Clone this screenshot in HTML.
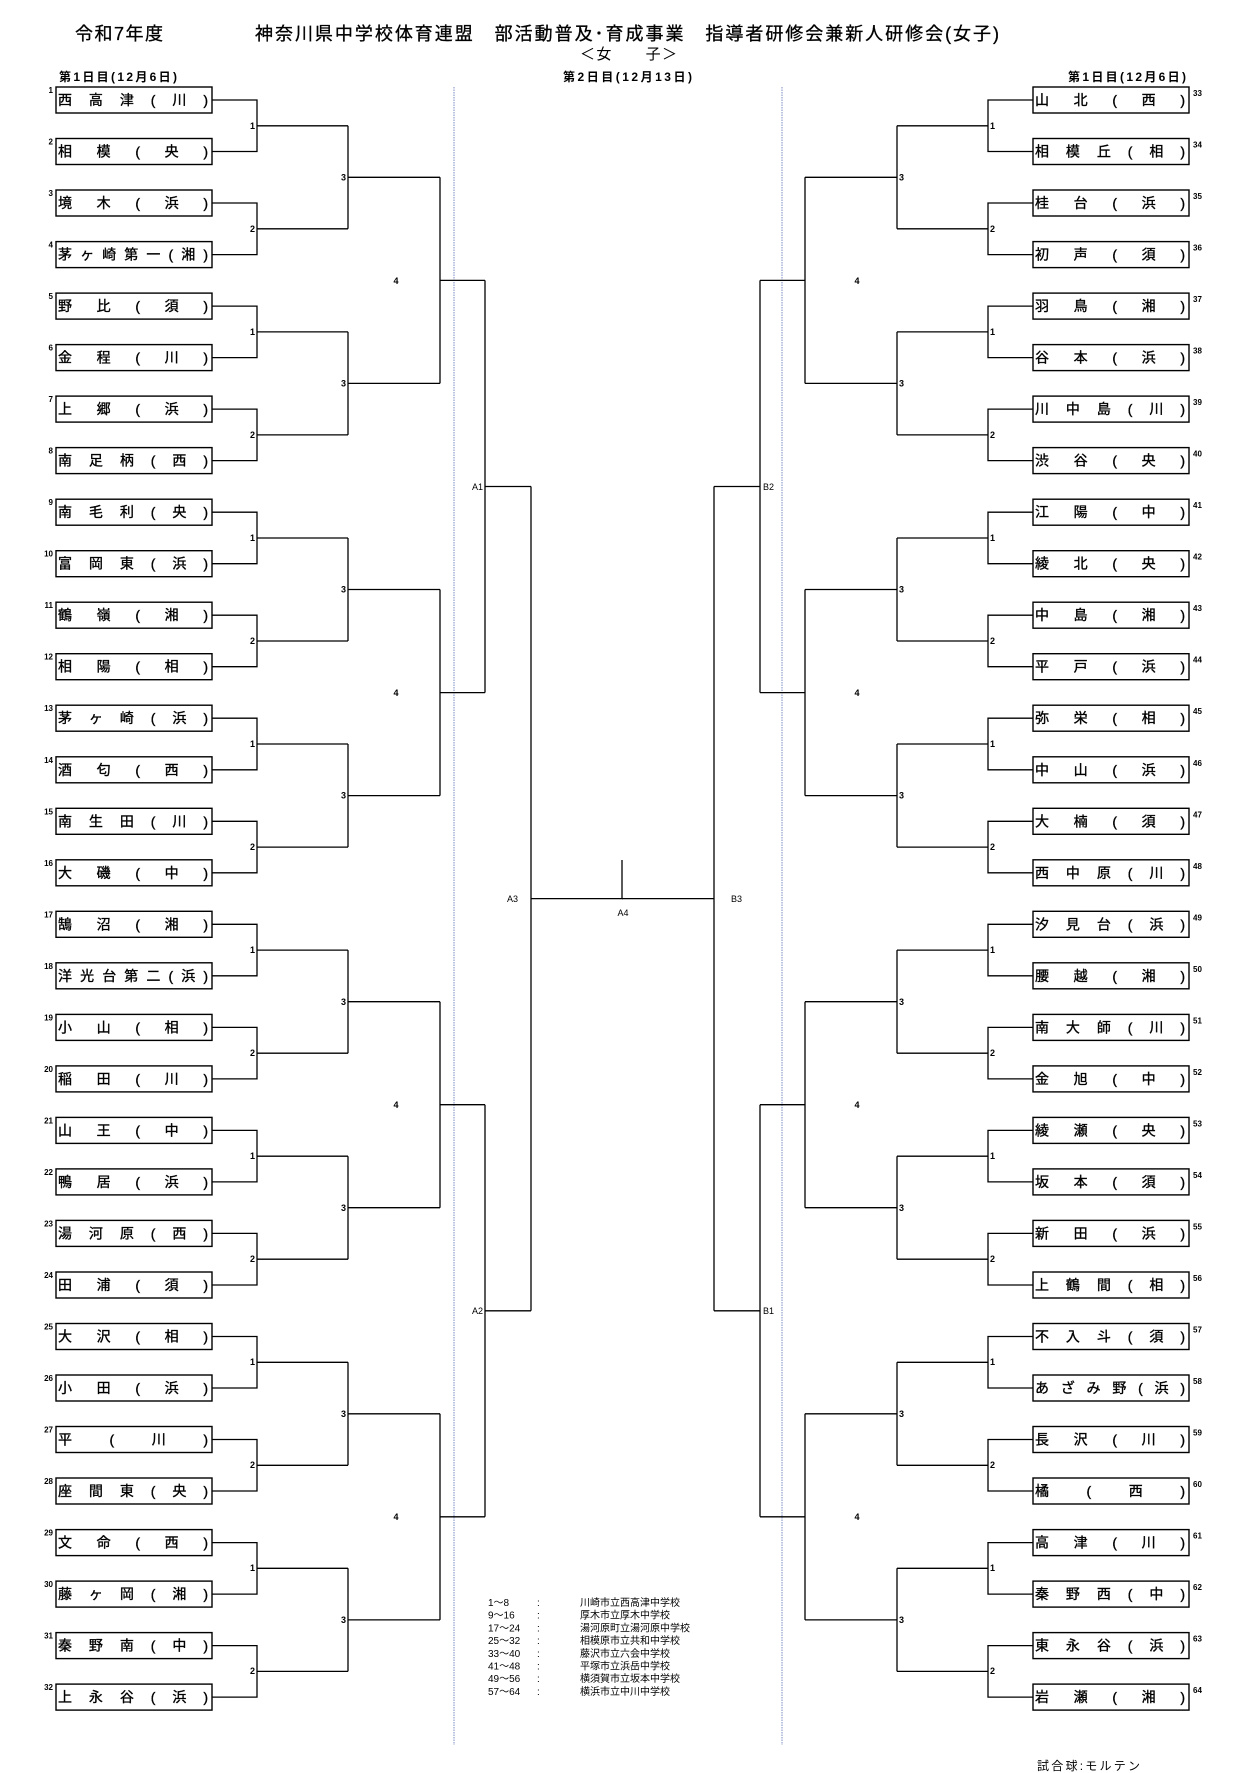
<!DOCTYPE html>
<html><head><meta charset="utf-8"><style>
html,body{margin:0;padding:0;background:#fff}
svg{display:block}
text{font-family:"Liberation Sans","Noto Sans CJK JP",sans-serif;fill:#000}
.tn text{stroke:#000;stroke-width:0.35}
.bd{font-weight:bold}
</style></head><body>
<svg width="1235" height="1773" viewBox="0 0 1235 1773" xmlns="http://www.w3.org/2000/svg">
<defs>
<path id="br" fill="none" stroke="#000" stroke-width="1.3" d="M212 100H257V151.5H212M257 125.8H348M212 203H257V254.6H212M257 228.8H348M212 306.1H257V357.6H212M257 331.9H348M212 409.1H257V460.6H212M257 434.9H348M212 512.2H257V563.7H212M257 538H348M212 615.2H257V666.7H212M257 641H348M212 718.2H257V769.8H212M257 744H348M212 821.3H257V872.8H212M257 847.1H348M212 924.3H257V975.8H212M257 950.1H348M212 1027.4H257V1078.9H212M257 1053.2H348M212 1130.4H257V1181.9H212M257 1156.2H348M212 1233.4H257V1285H212M257 1259.2H348M212 1336.5H257V1388H212M257 1362.3H348M212 1439.5H257V1491H212M257 1465.3H348M212 1542.6H257V1594.1H212M257 1568.3H348M212 1645.6H257V1697.1H212M257 1671.4H348
M348 125.8V228.8M348 177.3H440M348 331.9V434.9M348 383.4H440M348 538V641M348 589.5H440M348 744V847.1M348 795.6H440M348 950.1V1053.2M348 1001.7H440M348 1156.2V1259.2M348 1207.7H440M348 1362.3V1465.3M348 1413.8H440M348 1568.3V1671.4M348 1619.9H440
M440 177.3V383.4M440 280.4H485M440 589.5V795.6M440 692.6H485M440 1001.7V1207.7M440 1104.7H485M440 1413.8V1619.9M440 1516.8H485
M485 280.4V692.6M485 486.5H531M485 1104.7V1516.8M485 1310.8H531
M531 486.5V1310.8M531 898.6H623"/>
<rect id="b" width="156" height="26" fill="none" stroke="#000" stroke-width="1.4"/>
</defs>

<line x1="454" y1="87" x2="454" y2="1745" stroke="#8fa0d0" stroke-width="1.2" stroke-dasharray="1.5 1"/>
<line x1="782" y1="87" x2="782" y2="1745" stroke="#8fa0d0" stroke-width="1.2" stroke-dasharray="1.5 1"/>

<use href="#br"/>
<use href="#br" transform="translate(1245,0) scale(-1,1)"/>
<path d="M622 860V898.6" stroke="#000" stroke-width="1.3"/>

<!-- header -->
<text x="75" y="40" font-size="18" textLength="88" stroke="#000" stroke-width="0.3">令和7年度</text>
<text x="255" y="40" font-size="18" textLength="744" lengthAdjust="spacing" stroke="#000" stroke-width="0.3">神奈川県中学校体育連盟　部活動普及･育成事業　指導者研修会兼新人研修会(女子)</text>
<text x="580" y="59" font-size="15" textLength="97" lengthAdjust="spacing">＜女　　子＞</text>
<text class="bd" x="59" y="81" font-size="12" textLength="118">第1日目(12月6日)</text>
<text class="bd" x="563" y="81" font-size="12" textLength="129">第2日目(12月13日)</text>
<text class="bd" x="1068" y="81" font-size="12" textLength="118">第1日目(12月6日)</text>

<!-- boxes -->
<g>
<use href="#b" x="56" y="87"/><use href="#b" x="56" y="138.5"/><use href="#b" x="56" y="190"/><use href="#b" x="56" y="241.6"/>
<use href="#b" x="56" y="293.1"/><use href="#b" x="56" y="344.6"/><use href="#b" x="56" y="396.1"/><use href="#b" x="56" y="447.6"/>
<use href="#b" x="56" y="499.2"/><use href="#b" x="56" y="550.7"/><use href="#b" x="56" y="602.2"/><use href="#b" x="56" y="653.7"/>
<use href="#b" x="56" y="705.2"/><use href="#b" x="56" y="756.8"/><use href="#b" x="56" y="808.3"/><use href="#b" x="56" y="859.8"/>
<use href="#b" x="56" y="911.3"/><use href="#b" x="56" y="962.8"/><use href="#b" x="56" y="1014.4"/><use href="#b" x="56" y="1065.9"/>
<use href="#b" x="56" y="1117.4"/><use href="#b" x="56" y="1168.9"/><use href="#b" x="56" y="1220.4"/><use href="#b" x="56" y="1272"/>
<use href="#b" x="56" y="1323.5"/><use href="#b" x="56" y="1375"/><use href="#b" x="56" y="1426.5"/><use href="#b" x="56" y="1478"/>
<use href="#b" x="56" y="1529.6"/><use href="#b" x="56" y="1581.1"/><use href="#b" x="56" y="1632.6"/><use href="#b" x="56" y="1684.1"/>
</g>
<g>
<use href="#b" x="1033" y="87"/><use href="#b" x="1033" y="138.5"/><use href="#b" x="1033" y="190"/><use href="#b" x="1033" y="241.6"/>
<use href="#b" x="1033" y="293.1"/><use href="#b" x="1033" y="344.6"/><use href="#b" x="1033" y="396.1"/><use href="#b" x="1033" y="447.6"/>
<use href="#b" x="1033" y="499.2"/><use href="#b" x="1033" y="550.7"/><use href="#b" x="1033" y="602.2"/><use href="#b" x="1033" y="653.7"/>
<use href="#b" x="1033" y="705.2"/><use href="#b" x="1033" y="756.8"/><use href="#b" x="1033" y="808.3"/><use href="#b" x="1033" y="859.8"/>
<use href="#b" x="1033" y="911.3"/><use href="#b" x="1033" y="962.8"/><use href="#b" x="1033" y="1014.4"/><use href="#b" x="1033" y="1065.9"/>
<use href="#b" x="1033" y="1117.4"/><use href="#b" x="1033" y="1168.9"/><use href="#b" x="1033" y="1220.4"/><use href="#b" x="1033" y="1272"/>
<use href="#b" x="1033" y="1323.5"/><use href="#b" x="1033" y="1375"/><use href="#b" x="1033" y="1426.5"/><use href="#b" x="1033" y="1478"/>
<use href="#b" x="1033" y="1529.6"/><use href="#b" x="1033" y="1581.1"/><use href="#b" x="1033" y="1632.6"/><use href="#b" x="1033" y="1684.1"/>
</g>

<!-- team names left -->
<g class="tn" font-size="14">
<text x="58" y="105" textLength="150" lengthAdjust="spacing">西高津(川)</text>
<text x="58" y="156.5" textLength="150" lengthAdjust="spacing">相模(央)</text>
<text x="58" y="208" textLength="150" lengthAdjust="spacing">境木(浜)</text>
<text x="58" y="259.6" textLength="150" lengthAdjust="spacing">茅ヶ崎第一(湘)</text>
<text x="58" y="311.1" textLength="150" lengthAdjust="spacing">野比(須)</text>
<text x="58" y="362.6" textLength="150" lengthAdjust="spacing">金程(川)</text>
<text x="58" y="414.1" textLength="150" lengthAdjust="spacing">上郷(浜)</text>
<text x="58" y="465.6" textLength="150" lengthAdjust="spacing">南足柄(西)</text>
<text x="58" y="517.2" textLength="150" lengthAdjust="spacing">南毛利(央)</text>
<text x="58" y="568.7" textLength="150" lengthAdjust="spacing">富岡東(浜)</text>
<text x="58" y="620.2" textLength="150" lengthAdjust="spacing">鶴嶺(湘)</text>
<text x="58" y="671.7" textLength="150" lengthAdjust="spacing">相陽(相)</text>
<text x="58" y="723.2" textLength="150" lengthAdjust="spacing">茅ヶ崎(浜)</text>
<text x="58" y="774.8" textLength="150" lengthAdjust="spacing">酒匂(西)</text>
<text x="58" y="826.3" textLength="150" lengthAdjust="spacing">南生田(川)</text>
<text x="58" y="877.8" textLength="150" lengthAdjust="spacing">大磯(中)</text>
<text x="58" y="929.3" textLength="150" lengthAdjust="spacing">鵠沼(湘)</text>
<text x="58" y="980.8" textLength="150" lengthAdjust="spacing">洋光台第二(浜)</text>
<text x="58" y="1032.4" textLength="150" lengthAdjust="spacing">小山(相)</text>
<text x="58" y="1083.9" textLength="150" lengthAdjust="spacing">稲田(川)</text>
<text x="58" y="1135.4" textLength="150" lengthAdjust="spacing">山王(中)</text>
<text x="58" y="1186.9" textLength="150" lengthAdjust="spacing">鴨居(浜)</text>
<text x="58" y="1238.4" textLength="150" lengthAdjust="spacing">湯河原(西)</text>
<text x="58" y="1290" textLength="150" lengthAdjust="spacing">田浦(須)</text>
<text x="58" y="1341.5" textLength="150" lengthAdjust="spacing">大沢(相)</text>
<text x="58" y="1393" textLength="150" lengthAdjust="spacing">小田(浜)</text>
<text x="58" y="1444.5" textLength="150" lengthAdjust="spacing">平(川)</text>
<text x="58" y="1496" textLength="150" lengthAdjust="spacing">座間東(央)</text>
<text x="58" y="1547.6" textLength="150" lengthAdjust="spacing">文命(西)</text>
<text x="58" y="1599.1" textLength="150" lengthAdjust="spacing">藤ヶ岡(湘)</text>
<text x="58" y="1650.6" textLength="150" lengthAdjust="spacing">秦野南(中)</text>
<text x="58" y="1702.1" textLength="150" lengthAdjust="spacing">上永谷(浜)</text>
</g>
<!-- team names right -->
<g class="tn" font-size="14">
<text x="1035" y="105" textLength="150" lengthAdjust="spacing">山北(西)</text>
<text x="1035" y="156.5" textLength="150" lengthAdjust="spacing">相模丘(相)</text>
<text x="1035" y="208" textLength="150" lengthAdjust="spacing">桂台(浜)</text>
<text x="1035" y="259.6" textLength="150" lengthAdjust="spacing">初声(須)</text>
<text x="1035" y="311.1" textLength="150" lengthAdjust="spacing">羽鳥(湘)</text>
<text x="1035" y="362.6" textLength="150" lengthAdjust="spacing">谷本(浜)</text>
<text x="1035" y="414.1" textLength="150" lengthAdjust="spacing">川中島(川)</text>
<text x="1035" y="465.6" textLength="150" lengthAdjust="spacing">渋谷(央)</text>
<text x="1035" y="517.2" textLength="150" lengthAdjust="spacing">江陽(中)</text>
<text x="1035" y="568.7" textLength="150" lengthAdjust="spacing">綾北(央)</text>
<text x="1035" y="620.2" textLength="150" lengthAdjust="spacing">中島(湘)</text>
<text x="1035" y="671.7" textLength="150" lengthAdjust="spacing">平戸(浜)</text>
<text x="1035" y="723.2" textLength="150" lengthAdjust="spacing">弥栄(相)</text>
<text x="1035" y="774.8" textLength="150" lengthAdjust="spacing">中山(浜)</text>
<text x="1035" y="826.3" textLength="150" lengthAdjust="spacing">大楠(須)</text>
<text x="1035" y="877.8" textLength="150" lengthAdjust="spacing">西中原(川)</text>
<text x="1035" y="929.3" textLength="150" lengthAdjust="spacing">汐見台(浜)</text>
<text x="1035" y="980.8" textLength="150" lengthAdjust="spacing">腰越(湘)</text>
<text x="1035" y="1032.4" textLength="150" lengthAdjust="spacing">南大師(川)</text>
<text x="1035" y="1083.9" textLength="150" lengthAdjust="spacing">金旭(中)</text>
<text x="1035" y="1135.4" textLength="150" lengthAdjust="spacing">綾瀬(央)</text>
<text x="1035" y="1186.9" textLength="150" lengthAdjust="spacing">坂本(須)</text>
<text x="1035" y="1238.4" textLength="150" lengthAdjust="spacing">新田(浜)</text>
<text x="1035" y="1290" textLength="150" lengthAdjust="spacing">上鶴間(相)</text>
<text x="1035" y="1341.5" textLength="150" lengthAdjust="spacing">不入斗(須)</text>
<text x="1035" y="1393" textLength="150" lengthAdjust="spacing">あざみ野(浜)</text>
<text x="1035" y="1444.5" textLength="150" lengthAdjust="spacing">長沢(川)</text>
<text x="1035" y="1496" textLength="150" lengthAdjust="spacing">橘(西)</text>
<text x="1035" y="1547.6" textLength="150" lengthAdjust="spacing">高津(川)</text>
<text x="1035" y="1599.1" textLength="150" lengthAdjust="spacing">秦野西(中)</text>
<text x="1035" y="1650.6" textLength="150" lengthAdjust="spacing">東永谷(浜)</text>
<text x="1035" y="1702.1" textLength="150" lengthAdjust="spacing">岩瀬(湘)</text>
</g>

<!-- seed numbers -->
<g class="bd" font-size="8" text-anchor="end">
<text x="53" y="93">1</text><text x="53" y="144.5">2</text><text x="53" y="196">3</text><text x="53" y="247.6">4</text>
<text x="53" y="299.1">5</text><text x="53" y="350.6">6</text><text x="53" y="402.1">7</text><text x="53" y="453.6">8</text>
<text x="53" y="505.2">9</text><text x="53" y="556.7">10</text><text x="53" y="608.2">11</text><text x="53" y="659.7">12</text>
<text x="53" y="711.2">13</text><text x="53" y="762.8">14</text><text x="53" y="814.3">15</text><text x="53" y="865.8">16</text>
<text x="53" y="917.3">17</text><text x="53" y="968.8">18</text><text x="53" y="1020.4">19</text><text x="53" y="1071.9">20</text>
<text x="53" y="1123.4">21</text><text x="53" y="1174.9">22</text><text x="53" y="1226.4">23</text><text x="53" y="1278">24</text>
<text x="53" y="1329.5">25</text><text x="53" y="1381">26</text><text x="53" y="1432.5">27</text><text x="53" y="1484">28</text>
<text x="53" y="1535.6">29</text><text x="53" y="1587.1">30</text><text x="53" y="1638.6">31</text><text x="53" y="1690.1">32</text>
</g>
<g class="bd" font-size="8">
<text x="1193" y="96">33</text><text x="1193" y="147.5">34</text><text x="1193" y="199">35</text><text x="1193" y="250.6">36</text>
<text x="1193" y="302.1">37</text><text x="1193" y="353.6">38</text><text x="1193" y="405.1">39</text><text x="1193" y="456.6">40</text>
<text x="1193" y="508.2">41</text><text x="1193" y="559.7">42</text><text x="1193" y="611.2">43</text><text x="1193" y="662.7">44</text>
<text x="1193" y="714.2">45</text><text x="1193" y="765.8">46</text><text x="1193" y="817.3">47</text><text x="1193" y="868.8">48</text>
<text x="1193" y="920.3">49</text><text x="1193" y="971.8">50</text><text x="1193" y="1023.4">51</text><text x="1193" y="1074.9">52</text>
<text x="1193" y="1126.4">53</text><text x="1193" y="1177.9">54</text><text x="1193" y="1229.4">55</text><text x="1193" y="1281">56</text>
<text x="1193" y="1332.5">57</text><text x="1193" y="1384">58</text><text x="1193" y="1435.5">59</text><text x="1193" y="1487">60</text>
<text x="1193" y="1538.6">61</text><text x="1193" y="1590.1">62</text><text x="1193" y="1641.6">63</text><text x="1193" y="1693.1">64</text>
</g>

<!-- round labels left -->
<g class="bd" font-size="9" text-anchor="end">
<text x="255" y="129">1</text><text x="255" y="232">2</text><text x="255" y="335">1</text><text x="255" y="438">2</text>
<text x="255" y="541">1</text><text x="255" y="644">2</text><text x="255" y="747">1</text><text x="255" y="850">2</text>
<text x="255" y="953">1</text><text x="255" y="1056">2</text><text x="255" y="1159">1</text><text x="255" y="1262">2</text>
<text x="255" y="1365">1</text><text x="255" y="1468">2</text><text x="255" y="1571">1</text><text x="255" y="1674">2</text>
<text x="346" y="180.5">3</text><text x="346" y="386.5">3</text><text x="346" y="592.5">3</text><text x="346" y="798.5">3</text>
<text x="346" y="1005">3</text><text x="346" y="1211">3</text><text x="346" y="1417">3</text><text x="346" y="1623">3</text>
</g>
<g font-size="9" text-anchor="end">
<text x="483" y="490">A1</text><text x="483" y="1314">A2</text><text x="518" y="902">A3</text>
</g>
<g class="bd" font-size="9" text-anchor="middle">
<text x="396" y="284">4</text><text x="396" y="696">4</text><text x="396" y="1108">4</text><text x="396" y="1520">4</text>
<text x="857" y="284">4</text><text x="857" y="696">4</text><text x="857" y="1108">4</text><text x="857" y="1520">4</text>
</g>
<text x="623" y="916" font-size="9" text-anchor="middle">A4</text>
<g class="bd" font-size="9">
<text x="990" y="129">1</text><text x="990" y="232">2</text><text x="990" y="335">1</text><text x="990" y="438">2</text>
<text x="990" y="541">1</text><text x="990" y="644">2</text><text x="990" y="747">1</text><text x="990" y="850">2</text>
<text x="990" y="953">1</text><text x="990" y="1056">2</text><text x="990" y="1159">1</text><text x="990" y="1262">2</text>
<text x="990" y="1365">1</text><text x="990" y="1468">2</text><text x="990" y="1571">1</text><text x="990" y="1674">2</text>
<text x="899" y="180.5">3</text><text x="899" y="386.5">3</text><text x="899" y="592.5">3</text><text x="899" y="798.5">3</text>
<text x="899" y="1005">3</text><text x="899" y="1211">3</text><text x="899" y="1417">3</text><text x="899" y="1623">3</text>
</g>
<g font-size="9">
<text x="763" y="490">B2</text><text x="763" y="1314">B1</text><text x="731" y="902">B3</text>
</g>

<!-- legend -->
<g font-size="10" fill="#222">
<text x="488" y="1606">1～8</text><text x="537" y="1606">:</text><text x="580" y="1606">川崎市立西高津中学校</text>
<text x="488" y="1618.7">9～16</text><text x="537" y="1618.7">:</text><text x="580" y="1618.7">厚木市立厚木中学校</text>
<text x="488" y="1631.4">17～24</text><text x="537" y="1631.4">:</text><text x="580" y="1631.4">湯河原町立湯河原中学校</text>
<text x="488" y="1644.1">25～32</text><text x="537" y="1644.1">:</text><text x="580" y="1644.1">相模原市立共和中学校</text>
<text x="488" y="1656.8">33～40</text><text x="537" y="1656.8">:</text><text x="580" y="1656.8">藤沢市立六会中学校</text>
<text x="488" y="1669.5">41～48</text><text x="537" y="1669.5">:</text><text x="580" y="1669.5">平塚市立浜岳中学校</text>
<text x="488" y="1682.2">49～56</text><text x="537" y="1682.2">:</text><text x="580" y="1682.2">横須賀市立坂本中学校</text>
<text x="488" y="1694.9">57～64</text><text x="537" y="1694.9">:</text><text x="580" y="1694.9">横浜市立中川中学校</text>
</g>
<text x="1037" y="1770" font-size="12" textLength="103">試合球:モルテン</text>
</svg>
</body></html>
